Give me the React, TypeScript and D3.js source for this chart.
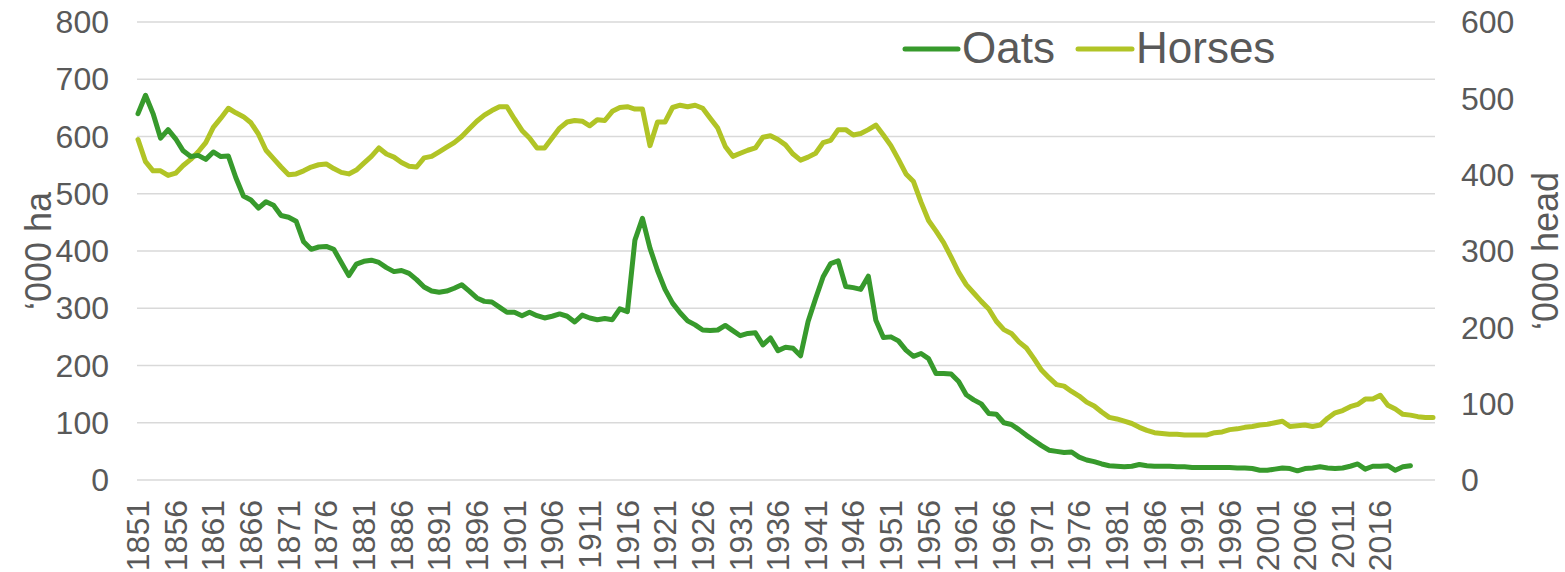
import React from 'react'
import * as d3 from 'd3'

// categories: one per year
const years: number[] = d3.range(1851, 2024)

const tickYears = [1851, 1856, 1861, 1866, 1871, 1876, 1881, 1886, 1891, 1896, 1901, 1906, 1911, 1916, 1921, 1926, 1931, 1936, 1941, 1946, 1951, 1956, 1961, 1966, 1971, 1976, 1981, 1986, 1991, 1996, 2001, 2006, 2011, 2016]

// oats area, '000 ha (left axis), 1851-2020
const oats = [
  640, 672, 640, 597, 612, 596, 575, 565, 567, 560,
  573, 565, 566, 528, 496, 489, 475, 486, 480, 462,
  459, 452, 416, 403, 407, 408, 403, 380, 357, 377,
  382, 384, 380, 371, 364, 366, 361, 350, 337, 330,
  328, 330, 335, 341, 330, 318, 312, 311, 302, 293,
  293, 287, 293, 287, 283, 286, 290, 286, 276, 288,
  283, 280, 282, 280, 299, 294, 419, 457, 405, 366,
  333, 309, 292, 278, 271, 262, 261, 262, 270, 261,
  252, 256, 257, 236, 248, 226, 232, 230, 217, 277,
  317, 355, 378, 383, 338, 336, 333, 356, 279, 249,
  250, 243, 227, 216, 221, 212, 186, 186, 185, 172,
  149, 140, 133, 116, 115, 100, 97, 88, 78, 69,
  60, 52, 50, 48, 49, 40, 35, 32, 28, 25,
  24, 23, 24, 27, 25, 24, 24, 24, 23, 23,
  22, 22, 22, 22, 22, 22, 21, 21, 20, 17,
  17, 19, 21, 20, 16, 20, 21, 23, 21, 20,
  21, 24, 28, 19, 24, 24, 25, 17, 23, 25,
]

// horses, '000 head (right axis), 1851-2023
const horses = [
  446, 417, 405, 405, 399, 402, 412, 420, 430, 442,
  462, 474, 487, 481, 476, 468, 453, 432, 421, 410,
  400, 401, 405, 410, 413, 414, 408, 403, 401, 406,
  415, 424, 435, 427, 423, 416, 411, 410, 422, 424,
  430, 436, 442, 450, 460, 470, 478, 484, 489, 489,
  473, 458, 448, 435, 435, 448, 461, 469, 471, 470,
  464, 472, 471, 483, 488, 489, 486, 486, 438, 469,
  469, 488, 491, 489, 491, 487, 474, 461, 437, 424,
  428, 432, 435, 449, 451, 446, 439, 427, 419, 423,
  428, 442, 445, 459, 459, 452, 454, 459, 465, 452,
  438, 420, 401, 391, 364, 340, 326, 311, 292, 272,
  256, 245, 234, 224, 208, 197, 192, 181, 173, 159,
  144, 134, 125, 123, 116, 110, 102, 97, 89, 82,
  80, 77, 74, 69, 65, 62, 61, 60, 60, 59,
  59, 59, 59, 62, 63, 66, 67, 69, 70, 72,
  73, 75, 77, 70, 71, 72, 70, 72, 81, 88,
  91, 96, 99, 106, 106, 111, 98, 93, 86, 85,
  83, 82, 82,
]

const leftTicks = [0, 100, 200, 300, 400, 500, 600, 700, 800]
const rightTicks = [0, 100, 200, 300, 400, 500, 600]

const W = 1565
const H = 572
const font = '"Liberation Sans", Arial, sans-serif'
const textColor = '#595959'
const oatsColor = '#379a2c'
const horsesColor = '#b1c426'

const App = () => {
  const x = d3.scalePoint<number>().domain(years).range([138, 1433])
  const yLeft = d3.scaleLinear().domain([0, 800]).range([480, 22])
  const yRight = d3.scaleLinear().domain([0, 600]).range([480, 22])

  const oatsLine = d3.line<number>()
    .x((d, i) => x(years[i]) as number)
    .y(d => yLeft(d))
  const horsesLine = d3.line<number>()
    .x((d, i) => x(years[i]) as number)
    .y(d => yRight(d))

  return (
    <svg width={W} height={H} style={{ position: 'absolute', left: 0, top: 0, background: '#fff' }}
      fontFamily={font}>
      {/* gridlines */}
      {leftTicks.map(t => (
        <line key={t} x1={137} x2={1435} y1={yLeft(t)} y2={yLeft(t)} stroke="#d9d9d9" strokeWidth={1.5} />
      ))}

      {/* left axis labels */}
      {leftTicks.map(t => (
        <text key={t} x={109} y={yLeft(t)} dy="0.35em" textAnchor="end" fontSize={32} fill={textColor}>{t}</text>
      ))}
      {/* right axis labels */}
      {rightTicks.map(t => (
        <text key={t} x={1461} y={yRight(t)} dy="0.35em" textAnchor="start" fontSize={32} fill={textColor}>{t}</text>
      ))}

      {/* x labels */}
      {tickYears.map(yr => (
        <text key={yr} transform={`translate(${x(yr)},500) rotate(-90)`} dy="0.35em" textAnchor="end"
          fontSize={32} fill={textColor}>{yr}</text>
      ))}

      {/* axis titles */}
      <text transform="translate(38,251) rotate(-90)" dy="0.35em" textAnchor="middle" fontSize={36} fill={textColor}>‘000 ha</text>
      <text transform="translate(1545,251) rotate(-90)" dy="0.35em" textAnchor="middle" fontSize={36} fill={textColor}>‘000 head</text>

      {/* series */}
      <path d={horsesLine(horses) ?? ''} fill="none" stroke={horsesColor} strokeWidth={5} strokeLinejoin="round" strokeLinecap="round" />
      <path d={oatsLine(oats) ?? ''} fill="none" stroke={oatsColor} strokeWidth={5} strokeLinejoin="round" strokeLinecap="round" />

      {/* legend */}
      <line x1={905} x2={958} y1={49} y2={49} stroke={oatsColor} strokeWidth={5} strokeLinecap="round" />
      <text x={962} y={63} fontSize={44} fill={textColor}>Oats</text>
      <line x1={1078} x2={1132} y1={49} y2={49} stroke={horsesColor} strokeWidth={5} strokeLinecap="round" />
      <text x={1136} y={63} fontSize={44} fill={textColor}>Horses</text>
    </svg>
  )
}

export default App
